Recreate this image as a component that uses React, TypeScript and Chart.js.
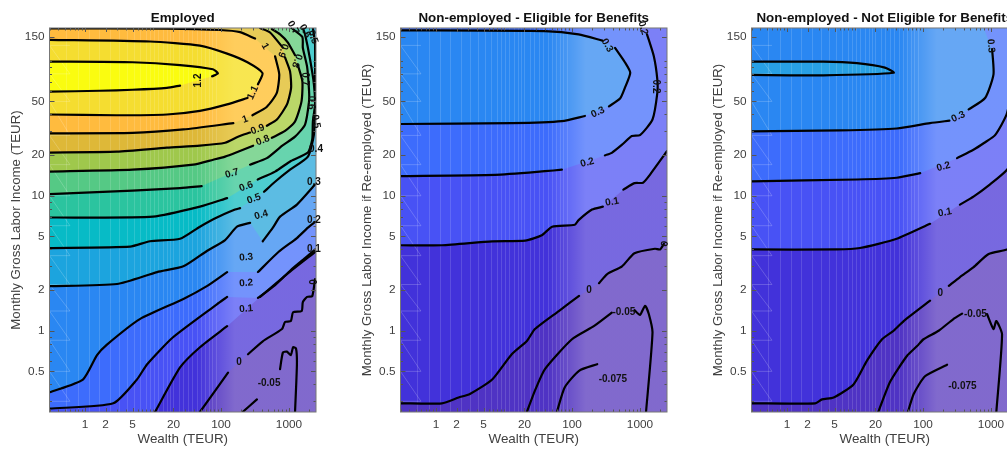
import React, { useEffect, useRef } from "react";
import { Chart, registerables } from "chart.js";

Chart.register(...registerables);

type Pt = [number, number] | null;

const FONT = "'Liberation Sans', Arial, sans-serif";
const xMin = 0.3, xMax = 2500, yMin = 0.25, yMax = 175;
const xTickValues = [1, 2, 5, 20, 100, 1000];
const yTickValues = [0.5, 1, 2, 5, 10, 20, 50, 150];
const xMinorTicks = [0.3, 0.4, 0.5, 0.6, 0.7, 0.8, 0.9, 1, 2, 3, 4, 5, 6, 7, 8, 9, 10, 20, 30, 40, 50, 60, 70, 80, 90, 100, 200, 300, 400, 500, 600, 700, 800, 900, 1000, 2000];
const yMinorTicks = [0.3, 0.4, 0.5, 0.6, 0.7, 0.8, 0.9, 1, 2, 3, 4, 5, 6, 7, 8, 9, 10, 20, 30, 40, 50, 60, 70, 80, 90, 100];
const wealthMesh = [0.52, 0.8, 1.15, 1.6, 2.3, 3.2, 4.1, 5.2, 6.4, 7.8, 9, 10.5, 12, 14, 16, 18, 20, 24, 28, 33, 38, 44, 50, 58, 66, 75, 85];
const incomeMesh = [130, 80, 50, 28, 17, 10, 6, 3.6, 2.2, 1.4, 0.85, 0.5, 0.3];

const bandBase = "#4F33C4";
const bandColors: Record<string, string> = {
  "-0.05": bandBase, "-0.075": bandBase,
  "0": "#4232DA", "0.1": "#4852F5", "0.2": "#3D6CFC", "0.3": "#2A87F2", "0.35": "#28A0E5",
  "0.4": "#1CA4DE", "0.5": "#07BBC6", "0.6": "#2BC49F", "0.7": "#55C985", "0.8": "#9FC84C",
  "0.9": "#DEB838", "1": "#FFBB3E", "1.1": "#F5DD30", "1.2": "#FAFC10",
};

// ---- Employed ----
const emp120: Pt[] = [[0.3, 59], [1.66, 60], [5, 61], [16, 63], [25, 65.5], null, [74, 76.7], [90, 80.7], [76, 86.5], [25, 93], [5, 97.5], [0.3, 98.6]];
const emp110: Pt[] = [[0.3, 40], [2.9, 39.5], [16, 40], [49, 42.5], [123, 47.5], [245, 53], null, [350, 67], [408, 81], [245, 97.5], [123, 113], [49, 129.5], [9, 139], [0.3, 143]];
const emp100: Pt[] = [[0.3, 29], [5, 29.2], [28, 31], [152, 34.5], null, [290, 39.5], [470, 45.5], [660, 57.5], [720, 79.4], [625, 108], null, [317, 146], [191, 163], [97, 169], [16, 173], [0.3, 174]];
const emp090: Pt[] = [[0.3, 20.9], [2.95, 21.2], [16, 22.7], [49, 23.5], [115, 24.7], [178, 27.4], [268, 29.4], null, [473, 33], [665, 36.7], [935, 47.5], [1075, 63], [1038, 83.5], [876, 106], null, [815, 125], [527, 162], [376, 175]];
const emp080: Pt[] = [[0.3, 15.1], [5, 15.6], [39, 17], [77, 18.5], [115, 19.5], [178, 21.2], [297, 23.5], null, [560, 26.9], [876, 30.2], [1229, 35.5], [1530, 50], [1575, 70.5], [1340, 94.2], null, [1229, 110], [960, 137], [740, 157], [560, 172]];
const emp070: Pt[] = [[0.3, 10.3], [5, 10.9], [25, 11.4], [52, 11.8], null, [268, 17], [473, 19], [790, 23.4], [1229, 27.4], [1725, 33.7], [1975, 50], [1975, 60], [1850, 90], [1600, 125], [1575, 150], [1150, 171.5]];
const emp060: Pt[] = [[0.3, 6.9], [10, 7], [49, 8.3], [123, 9.6], null, [347, 13.2], [625, 15.1], [1067, 18.1], [1900, 20.9], [2200, 26.1], [2250, 35.5], [2420, 47.5], [2330, 67], [2043, 102.6], [1725, 157], [1600, 175]];
const emp050: Pt[] = [[0.3, 4.1], [4.6, 4.2], [9, 4.6], [25, 4.8], [49, 5.9], [87, 6.9], [161, 7.9], [191, 8.1], null, [430, 10.7], [625, 12.7], [1038, 15.6], [1900, 19.5], [2330, 28.4], [2420, 43.6], [2420, 72.9], [2420, 132.6], [2250, 175]];
const emp040: Pt[] = [[0.3, 2.14], [2.95, 2.22], [11.5, 2.72], [28, 3], [62, 3.9], [115, 4.7], [172, 5.9], [268, 6.3], null, [412, 4.6], [580, 5.8], [740, 7], [1310, 8.6], [2420, 12.1]];
const emp030: Pt[] = [[0.3, 0.35], [0.93, 0.435], [1.5, 0.66], [2.1, 0.79], [6.4, 1.22], [28, 1.72], [62, 2.14], [123, 2.72], null, [350, 2.72], [700, 3.83], [1310, 4.86], [1900, 5.8], [2420, 6.4]];
const emp020: Pt[] = [[0.3, 0.265], [2.6, 0.29], [5.8, 0.435], [8.2, 0.565], [19.7, 0.895], [87, 1.57], [123, 1.78], null, [350, 1.75], [625, 2.18], [1067, 2.82], [1725, 3.45], [2420, 4]];
const emp010: Pt[] = [[10.7, 0.25], [25, 0.535], [49, 0.755], [123, 1.08], null, [376, 1.78], [935, 2.63], [2420, 3.83]];
const emp000: Pt[] = [[49, 0.25], [127, 0.49], null, [250, 0.67], [412, 0.835], [790, 1.03], [876, 1.16], [1067, 1.18], [1150, 1.37], [1540, 1.4], [1600, 1.63], [1850, 1.78], [2200, 1.8], [2420, 2.41]];
const empM05: Pt[] = [[212, 0.252], [338, 0.31], null, [740, 0.52], [815, 0.69], [935, 0.7], [1067, 0.66], [1150, 0.755], [1270, 0.74], [1310, 0.565], [1229, 0.25]];

// ---- Non-employed, eligible ----
const eli030: Pt[] = [[0.3, 34], [13, 34.5], [71, 35.7], [155, 39], null, [350, 46], [510, 52.5], [600, 63], [720, 81.5], [600, 97.5], [430, 124.5], null, [280, 141], [125, 157], [40, 166], [0.3, 168]];
const eli020: Pt[] = [[0.3, 14], [7.4, 14.3], [40, 15.2], [71, 15.6], null, [305, 19.9], [385, 20.8], [545, 23.9], [760, 27.7], [1000, 28.1], [1530, 36.7], [1800, 57.5], [1800, 72.9], [1600, 108], [1270, 157], null, [1000, 173]];
const eli010: Pt[] = [[0.3, 4.3], [1.22, 4.3], [6.7, 4.6], [20.5, 4.65], [36, 5.1], [51, 5.9], [110, 6.1], [125, 6.6], [197, 7.9], [285, 8.3], null, [570, 11.1], [830, 12.4], [1110, 12.5], [1400, 14.3], [2500, 21.4]];
const eli000: Pt[] = [[0.3, 0.29], [1.22, 0.29], [2.15, 0.32], [3.15, 0.34], [6.7, 0.435], [13, 0.67], [21.7, 0.84], [28.5, 1.03], [64, 1.4], [127, 1.81], null, [250, 2.25], [330, 2.63], [545, 3], [830, 3.75], [1660, 4.05], [1975, 4], [2250, 4.4]];
const eliM05: Pt[] = [[21.7, 0.25], [28.5, 0.36], [40, 0.52], [100, 0.865], [215, 1.09], [385, 1.36], null, [830, 1.42], [1000, 1.31], [1190, 1.53], [1350, 1.33], [1530, 0.97], [1229, 0.25]];
const eliM75: Pt[] = [[60, 0.25], [78, 0.38], [127, 0.505], [235, 0.565]];

// ---- Non-employed, not eligible ----
const nel035: Pt[] = [[0.3, 78.5], [3.4, 78], [37, 81.5], [27.5, 89], [10.7, 96], [3.4, 98.6], [0.3, 98.6]];
const nel030: Pt[] = [[0.3, 30], [6, 30.5], [41, 31.5], [127, 34.5], [245, 36], null, [470, 43.6], [820, 53], [1090, 79.4], [1040, 122], null, [780, 175]];
const nel020: Pt[] = [[0.3, 12.8], [10.7, 13.2], [41, 13.6], [91, 14.7], null, [317, 19], [560, 22], [790, 24.6], [1150, 28.1], [1725, 41], [2250, 92], [1900, 175]];
const nel010: Pt[] = [[0.3, 4], [5.4, 4], [11.8, 4.1], [41, 4.8], [127, 6.2], null, [350, 8.6], [560, 9.9], [960, 12.1], [1725, 15.6], [2500, 21.4]];
const nel000: Pt[] = [[0.3, 0.29], [2.6, 0.29], [3.27, 0.31], [4.85, 0.32], [9.5, 0.4], [15, 0.6], [25, 0.865], [37, 1], [52, 1.18], [127, 1.67], null, [240, 2.15], [350, 2.5], [550, 2.95], [925, 3.7], [1725, 4], [2500, 4.5]];
const nelM05: Pt[] = [[22, 0.25], [33, 0.42], [58, 0.65], [82, 0.77], [102, 0.865], [170, 1], [280, 1.22], [376, 1.34], null, [876, 1.33], [1090, 1.03], [1200, 1.18], [1456, 0.94], [1200, 0.25]];
const nelM75: Pt[] = [[60, 0.25], [73, 0.34], [107, 0.46], [226, 0.56]];

type Lab = [string, number, number, number];
const empLabels: Lab[] = [
  ["1.2", 46, 71.5, -90], ["1.1", 295, 58, -65], ["1", 226, 36.7, -20], ["1", 445, 128, 60],
  ["0.9", 347, 31, -20], ["0.8", 412, 25.7, -20], ["0.7", 145, 14.6, -15], ["0.6", 235, 11.7, -20],
  ["0.5", 305, 9.5, -20], ["0.4", 390, 7.2, -15], ["0.3", 235, 3.5, -5], ["0.2", 235, 2.25, -5],
  ["0.1", 235, 1.45, -5], ["0", 185, 0.58, 0], ["-0.05", 510, 0.41, 0],
  ["0.4", 2500, 22, 0], ["0.3", 2330, 12.5, 0], ["0.2", 2330, 6.6, 0], ["0.1", 2330, 4, 0], ["0", 2330, 2.3, -90],
  ["0.5", 2500, 35.5, 80], ["0.6", 2100, 49, 90], ["0.7", 1725, 73, 90], ["0.8", 1310, 100, 110], ["0.9", 815, 119, 110],
  ["0.7", 1150, 176, 60], ["0.6", 1725, 166, 60], ["0.5", 2250, 150, 70],
];
const eliLabels: Lab[] = [
  ["0.2", 1110, 175, 75], ["0.3", 330, 130, 60], ["0.2", 1725, 64.5, 90], ["0.3", 240, 41.5, -25],
  ["0.2", 168, 17.6, -15], ["0.1", 390, 9, -10], ["0", 178, 2, 0], ["-0.05", 580, 1.37, 0],
  ["-0.075", 400, 0.44, 0], ["0", 2330, 4.4, -80],
];
const nelLabels: Lab[] = [
  ["0.3", 1000, 129, 85], ["0.3", 330, 38.5, -25], ["0.2", 200, 16.4, -15], ["0.1", 210, 7.5, -10],
  ["0", 180, 1.9, 0], ["-0.05", 590, 1.33, 0], ["-0.075", 380, 0.385, 0],
];

type Level = [string, Pt[]];
interface Panel { left: number; title: string; yLabel: string; levels: Level[]; labels: Lab[]; }
const panels: Panel[] = [
  {
    left: 0, title: "Employed", yLabel: "Monthly Gross Labor Income (TEUR)", labels: empLabels,
    levels: [["0", emp000], ["0.1", emp010], ["0.2", emp020], ["0.3", emp030], ["0.4", emp040], ["0.5", emp050], ["0.6", emp060], ["0.7", emp070], ["0.8", emp080], ["0.9", emp090], ["1", emp100], ["1.1", emp110], ["1.2", emp120], ["-0.05", empM05]],
  },
  {
    left: 351, title: "Non-employed - Eligible for Benefits", yLabel: "Monthly Gross Labor Income if Re-employed (TEUR)", labels: eliLabels,
    levels: [["0", eli000], ["0.1", eli010], ["0.2", eli020], ["0.3", eli030], ["-0.05", eliM05], ["-0.075", eliM75]],
  },
  {
    left: 702, title: "Non-employed - Not Eligible for Benefits", yLabel: "Monthly Gross Labor Income if Re-employed (TEUR)", labels: nelLabels,
    levels: [["0", nel000], ["0.1", nel010], ["0.2", nel020], ["0.3", nel030], ["0.35", nel035], ["-0.05", nelM05], ["-0.075", nelM75]],
  },
];

function surfacePlugin(panel: Panel) {
  return {
    id: "surface",
    beforeDatasetsDraw(chart: any) {
      const { ctx, chartArea: a, scales } = chart;
      const px = (v: number) => scales.x.getPixelForValue(v);
      const py = (v: number) => scales.y.getPixelForValue(v);
      ctx.save();
      ctx.beginPath();
      ctx.rect(a.left, a.top, a.right - a.left, a.bottom - a.top);
      ctx.clip();
      ctx.fillStyle = bandBase;
      ctx.fillRect(a.left, a.top, a.right - a.left, a.bottom - a.top);
      for (const [lvl, pts] of panel.levels) {
        if (lvl.startsWith("-")) continue;
        const p = pts.filter(Boolean) as [number, number][];
        const s = p[0], e = p[p.length - 1];
        const ring = [...p];
        if (e[0] > xMin * 1.05) {
          if (e[1] < 165) ring.push([xMax * 2, e[1]], [xMax * 2, yMax * 2]);
          ring.push([xMin / 2, yMax * 2]);
          if (s[1] <= yMin * 1.02) ring.push([xMin / 2, yMin / 2], [s[0], yMin / 2]);
        }
        ctx.beginPath();
        ring.forEach(([x, y], i) => (i ? ctx.lineTo(px(x), py(y)) : ctx.moveTo(px(x), py(y))));
        ctx.closePath();
        ctx.fillStyle = bandColors[lvl];
        ctx.fill();
      }
      // faint mesh left by the interpolated surface
      ctx.strokeStyle = "rgba(255,255,255,0.14)";
      ctx.lineWidth = 1;
      for (const w of wealthMesh) {
        ctx.beginPath();
        ctx.moveTo(Math.round(px(w)) + 0.5, a.top);
        ctx.lineTo(Math.round(px(w)) + 0.5, a.bottom);
        ctx.stroke();
      }
      ctx.strokeStyle = "rgba(255,255,255,0.2)";
      incomeMesh.forEach((m, i) => {
        ctx.beginPath();
        ctx.moveTo(px(0.6), py(m));
        ctx.lineTo(a.left, py(m));
        if (i + 1 < incomeMesh.length) ctx.lineTo(px(0.6), py(incomeMesh[i + 1]));
        ctx.stroke();
      });
      // light wash over the high-wealth side
      const g = ctx.createLinearGradient(px(45), 0, px(160), 0);
      g.addColorStop(0, "rgb(0,0,0)");
      g.addColorStop(1, "rgb(72,68,40)");
      ctx.globalCompositeOperation = "screen";
      ctx.fillStyle = g;
      ctx.fillRect(a.left, a.top, a.right - a.left, a.bottom - a.top);
      ctx.restore();
    },
    afterDatasetsDraw(chart: any) {
      const { ctx, chartArea: a, scales } = chart;
      const px = (v: number) => scales.x.getPixelForValue(v);
      const py = (v: number) => scales.y.getPixelForValue(v);
      ctx.save();
      ctx.strokeStyle = "#555555";
      ctx.lineWidth = 1;
      ctx.beginPath();
      for (const v of xMinorTicks) {
        const L = xTickValues.includes(v) ? 4 : 2.5;
        const x = Math.round(px(v)) + 0.5;
        ctx.moveTo(x, a.bottom); ctx.lineTo(x, a.bottom - L);
        ctx.moveTo(x, a.top); ctx.lineTo(x, a.top + L);
      }
      for (const v of [...yMinorTicks, 150]) {
        const L = yTickValues.includes(v) ? 5 : 2.5;
        const y = Math.round(py(v)) + 0.5;
        ctx.moveTo(a.left, y); ctx.lineTo(a.left + L, y);
        ctx.moveTo(a.right, y); ctx.lineTo(a.right - L, y);
      }
      ctx.stroke();
      ctx.strokeStyle = "#777777";
      ctx.strokeRect(a.left, a.top, a.right - a.left, a.bottom - a.top);
      ctx.fillStyle = "#111111";
      ctx.font = `bold 10px ${FONT}`;
      ctx.textAlign = "center";
      ctx.textBaseline = "middle";
      for (const [t, x, y, r] of panel.labels) {
        ctx.save();
        ctx.translate(px(x), py(y));
        ctx.rotate((r * Math.PI) / 180);
        ctx.fillText(t, 0, 0);
        ctx.restore();
      }
      ctx.restore();
    },
  };
}

function PanelChart({ panel }: { panel: Panel }) {
  const ref = useRef<HTMLCanvasElement>(null);
  useEffect(() => {
    const chart = new Chart(ref.current as HTMLCanvasElement, {
      type: "scatter",
      data: {
        datasets: panel.levels.map(([lvl, pts]) => ({
          label: lvl,
          data: pts.map((p) => (p ? { x: p[0], y: p[1] } : { x: null, y: null })) as any,
          showLine: true,
          spanGaps: false,
          borderColor: "#000000",
          borderWidth: 2.2,
          borderCapStyle: "round" as const,
          borderJoinStyle: "round" as const,
          pointRadius: 0,
          tension: 0.2,
        })),
      },
      options: {
        responsive: false,
        animation: false,
        layout: { padding: { left: 0, right: 49, top: 0, bottom: 0 } },
        plugins: {
          legend: { display: false },
          tooltip: { enabled: false },
          title: {
            display: true,
            fullSize: false,
            text: panel.title,
            color: "#111111",
            font: { family: FONT, size: 13.4, weight: "bold", lineHeight: 1.2 },
            padding: { top: 10, bottom: 1.9 },
          },
        },
        scales: {
          x: {
            type: "logarithmic",
            min: xMin,
            max: xMax,
            grid: { display: false, drawTicks: false },
            border: { display: false },
            afterBuildTicks: (s: any) => { s.ticks = xTickValues.map((value) => ({ value })); },
            afterFit: (s: any) => { s.height = 37; },
            ticks: { autoSkip: false, maxRotation: 0, padding: 6, color: "#404040", font: { family: FONT, size: 11.8 }, callback: (v: any) => String(v) },
            title: { display: true, text: "Wealth (TEUR)", color: "#404040", font: { family: FONT, size: 13.4 }, padding: { top: 0, bottom: 2 } },
          },
          y: {
            type: "logarithmic",
            min: yMin,
            max: yMax,
            grid: { display: false, drawTicks: false },
            border: { display: false },
            afterBuildTicks: (s: any) => { s.ticks = yTickValues.map((value) => ({ value })); },
            afterFit: (s: any) => { s.width = 49.5; },
            ticks: { autoSkip: false, padding: 5, color: "#404040", font: { family: FONT, size: 11.8 }, callback: (v: any) => String(v) },
            title: { display: true, text: panel.yLabel, color: "#404040", font: { family: FONT, size: 13.3 }, padding: { top: 8, bottom: 0 } },
          },
        },
      },
      plugins: [surfacePlugin(panel)],
    } as any);
    return () => chart.destroy();
  }, [panel]);
  return (
    <canvas
      ref={ref}
      width={365}
      height={449}
      style={{ position: "absolute", left: panel.left, top: 0, width: 365, height: 449, filter: "blur(0.35px)" }}
    />
  );
}

export default function App() {
  return (
    <div style={{ position: "fixed", left: 0, top: 0, width: 1007, height: 449, overflow: "hidden", background: "#ffffff" }}>
      {panels.map((p) => (
        <PanelChart key={p.title} panel={p} />
      ))}
    </div>
  );
}
